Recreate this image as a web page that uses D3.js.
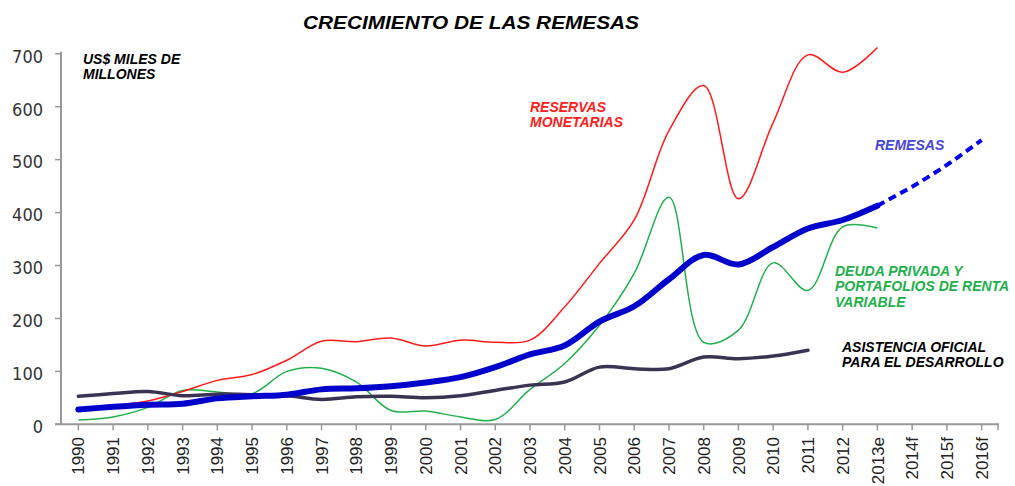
<!DOCTYPE html>
<html><head><meta charset="utf-8">
<script src="https://cdn.jsdelivr.net/npm/d3@7"></script>
<style>
body{margin:0;background:#fff;}
svg{display:block;}
.lbl{font-family:"Liberation Sans",Arial,sans-serif;font-weight:bold;font-style:italic;font-size:14px;}
</style></head>
<body><svg id="c" width="1015" height="486"></svg>
<script>
const years = ["1990","1991","1992","1993","1994","1995","1996","1997","1998","1999","2000","2001","2002","2003","2004","2005","2006","2007","2008","2009","2010","2011","2012","2013e","2014f","2015f","2016f"];
const remesas = [28,33,37,39,49,53,56,66,68,72,79,89,108,132,149,194,223,274,320,302,335,370,386,413];
const remesasProj = [413,449,490,537];
const reservas = [25,35,44,62,83,94,121,157,156,163,148,159,155,159,222,304,386,555,640,426,570,698,665,712];
const deuda = [8,14,32,64,61,58,100,106,80,26,25,14,9,66,115,187,285,429,155,178,305,253,373,371];
const asistencia = [53,58,62,54,57,56,54,47,52,53,50,54,64,74,80,108,105,105,127,124,129,140];
const yTicks = [0,100,200,300,400,500,600,700];

const svg = d3.select("#c");
const x = d3.scaleBand().domain(years).range([61,999]).padding(0);
const cx = d => x(d) + x.bandwidth()/2;
const y = d3.scaleLinear().domain([0,700]).range([424.3,53.8]);

const axisCol = "#999";
// Y axis
svg.append("line").attr("x1",61).attr("x2",61).attr("y1",y(700)-2).attr("y2",y(0)).attr("stroke",axisCol).attr("stroke-width",2);
const yg = svg.append("g");
yTicks.forEach(t=>{
  yg.append("line").attr("x1",55).attr("x2",61).attr("y1",y(t)).attr("y2",y(t)).attr("stroke",axisCol).attr("stroke-width",1.5);
  yg.append("text").attr("x",43).attr("y",y(t)+2.5).attr("dy","0.35em").attr("text-anchor","end")
    .attr("font-family","'DejaVu Sans Condensed','DejaVu Sans',sans-serif").attr("font-size",18).attr("fill","#333").text(t);
});
// X axis
svg.append("line").attr("x1",55).attr("x2",999).attr("y1",y(0)).attr("y2",y(0)).attr("stroke",axisCol).attr("stroke-width",2);
const xg = svg.append("g");
years.forEach(yr=>{
  const px = cx(yr);
  xg.append("line").attr("x1",px).attr("x2",px).attr("y1",y(0)).attr("y2",y(0)+6).attr("stroke",axisCol).attr("stroke-width",1.5);
  xg.append("text").attr("transform",`translate(${px},437) rotate(-90)`).attr("text-anchor","end").attr("dy","0.36em")
    .attr("font-family","'Liberation Sans',Arial,sans-serif").attr("font-size",17).attr("fill","#222").text(yr);
});
xg.append("line").attr("x1",998).attr("x2",998).attr("y1",y(0)).attr("y2",y(0)+6).attr("stroke",axisCol).attr("stroke-width",1.5);

const line = d3.line().x(d=>cx(d[0])).y(d=>y(d[1])).curve(d3.curveCatmullRom.alpha(0.5));
const pts = (arr, off=0) => arr.map((v,i)=>[years[i+off], v]);

svg.append("path").attr("d",line(pts(deuda))).attr("fill","none").attr("stroke","#22b04c").attr("stroke-width",1.5);
svg.append("path").attr("d",line(pts(reservas))).attr("fill","none").attr("stroke","#ff1a1a").attr("stroke-width",1.5);
svg.append("path").attr("d",line(pts(asistencia))).attr("fill","none").attr("stroke","#3b3352").attr("stroke-width",3.5).attr("stroke-linecap","round");
svg.append("path").attr("d",line(pts(remesas))).attr("fill","none").attr("stroke","#0000cc").attr("stroke-width",6).attr("stroke-linecap","round");
svg.append("path").attr("d",line(pts(remesasProj,23))).attr("fill","none").attr("stroke","#0000ee").attr("stroke-width",4).attr("stroke-dasharray","8,5");

// Title
svg.append("text").attr("x",303).attr("y",29).attr("class","lbl").style("font-size","19px")
  .attr("textLength",336).attr("lengthAdjust","spacingAndGlyphs").attr("fill","#000").text("CRECIMIENTO DE LAS REMESAS");

function multi(lines, x0, y0, dy, col){
  const t = svg.append("text").attr("class","lbl").attr("fill",col);
  lines.forEach((s,i)=>t.append("tspan").attr("x",x0).attr("y",y0+i*dy).text(s));
}
multi(["US$ MILES DE","MILLONES"],83,63.5,15.5,"#000");
multi(["RESERVAS","MONETARIAS"],530,111.5,15.7,"#ff2020");
multi(["REMESAS"],875,149.5,15,"#4646d8");
multi(["DEUDA PRIVADA Y","PORTAFOLIOS DE RENTA","VARIABLE"],835,275.5,15.6,"#22b04c");
multi(["ASISTENCIA OFICIAL","PARA EL DESARROLLO"],842,351.5,15.2,"#000");
</script></body></html>
